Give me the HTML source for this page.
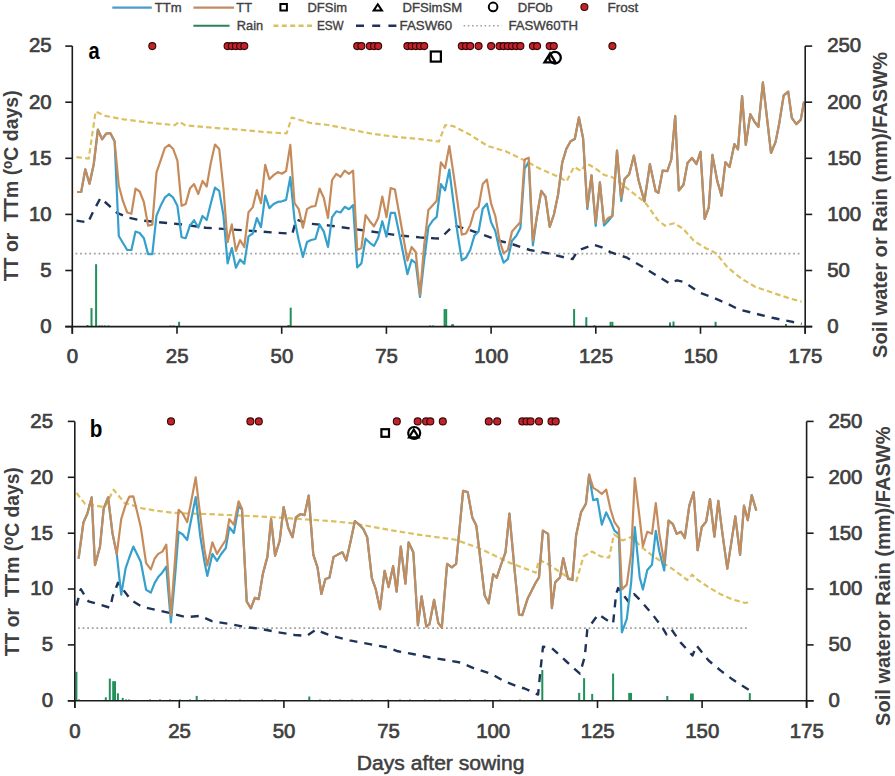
<!DOCTYPE html><html><head><meta charset="utf-8"><style>html,body{margin:0;padding:0;background:#fff;}svg{display:block;}</style></head><body>
<svg width="895" height="776" viewBox="0 0 895 776" font-family='"Liberation Sans", sans-serif'>
<rect width="895" height="776" fill="#fff"/>
<polyline points="75.5,253.7 802,253.7" fill="none" stroke="#A0A0A0" stroke-width="1.8" stroke-linejoin="round" stroke-dasharray="1.8 2.8" />
<rect x="86.5" y="325" width="2" height="1.6" fill="#22905A"/>
<rect x="90.5" y="308.1" width="2" height="18.5" fill="#22905A"/>
<rect x="95.1" y="264.2" width="2" height="62.4" fill="#22905A"/>
<rect x="98.5" y="325.5" width="2" height="1.1" fill="#22905A"/>
<rect x="101" y="325.5" width="2" height="1.1" fill="#22905A"/>
<rect x="104" y="325.5" width="2" height="1.1" fill="#22905A"/>
<rect x="107.5" y="325.5" width="2" height="1.1" fill="#22905A"/>
<rect x="178.1" y="321.8" width="2" height="4.8" fill="#22905A"/>
<rect x="169.5" y="325.5" width="2" height="1.1" fill="#22905A"/>
<rect x="172.5" y="325.5" width="2" height="1.1" fill="#22905A"/>
<rect x="289.7" y="307.7" width="2" height="18.9" fill="#22905A"/>
<rect x="287.5" y="325" width="2" height="1.6" fill="#22905A"/>
<rect x="443.6" y="309.1" width="2" height="17.5" fill="#22905A"/>
<rect x="445.2" y="309.1" width="2" height="17.5" fill="#22905A"/>
<rect x="452" y="324.2" width="2" height="2.4" fill="#22905A"/>
<rect x="451" y="324.5" width="2" height="2.1" fill="#22905A"/>
<rect x="429" y="325.5" width="2" height="1.1" fill="#22905A"/>
<rect x="432" y="325.5" width="2" height="1.1" fill="#22905A"/>
<rect x="573.1" y="309.1" width="2" height="17.5" fill="#22905A"/>
<rect x="585.3" y="317.2" width="2" height="9.4" fill="#22905A"/>
<rect x="593.3" y="325.3" width="2" height="1.3" fill="#22905A"/>
<rect x="609.6" y="321.8" width="2" height="4.8" fill="#22905A"/>
<rect x="611.4" y="321.8" width="2" height="4.8" fill="#22905A"/>
<rect x="669" y="322.5" width="2" height="4.1" fill="#22905A"/>
<rect x="672.5" y="321.5" width="2" height="5.1" fill="#22905A"/>
<rect x="714.6" y="321.8" width="2" height="4.8" fill="#22905A"/>
<rect x="785" y="324" width="2" height="2.6" fill="#22905A"/>
<polyline points="76.5,157.1 88.7,158.6 95.6,111.6 105.4,115.9 123.4,119.3 149.1,122.6 174.8,125.2 179.4,121.8 185.1,125.2 213.3,127.8 239,129.6 264.8,132.1 286.6,133.4 291.7,117.5 310.4,123 328.4,125 346.4,128.6 372.1,133.8 397.8,137.1 418.4,138.9 438.9,141.5 445.3,125 453.1,126.1 469.8,134.6 487.8,146.1 505.7,151.3 525.1,160.7 540,168.8 551.6,173.7 559.7,177.3 566.5,181.5 574,166.8 581.1,171 586,163.6 590,165.2 597.2,169.7 604.3,175 611.5,176.8 620,182.2 624.3,186.2 645.1,202.4 657.8,220 664.8,225.6 674.3,223.3 683,228.6 694.1,241 705.3,247.9 716.4,253.5 727.6,267.5 741.6,278.7 755.5,287 772.3,292.6 789,298.2 801.6,301.6" fill="none" stroke="#DCC060" stroke-width="2.2" stroke-linejoin="round" stroke-dasharray="5.5 3.2" />
<polyline points="76.5,220.6 88,222.5 93,212 100.5,197.9 117,212.8 128,217.5 142,220.6 180,224.2 205.7,227.7 242.5,230.2 260,231.5 292.3,233.8 296.3,219.4 307.4,223.5 330,225.6 353.9,229 393,234.6 405,236 419.6,237.4 433.8,238.3 440,238.5 445.3,233.5 453.6,225.3 468,229.4 503,241.8 508.9,243 529.8,250 548.3,253.4 564.5,257.4 572.6,259.1 576.8,252.1 581,249.3 593.5,244.6 601.9,247.4 610.3,252.1 627,257.7 643.8,267.5 669.5,283.5 677,280.3 684,282 699.7,292.8 713.6,297.8 727.6,303.8 738.8,309.4 755.5,313.6 772.3,317.8 789,321.1 801.6,323.9" fill="none" stroke="#1F3358" stroke-width="2.4" stroke-linejoin="round" stroke-dasharray="8 7" />
<polyline points="77,192 81.2,192 85.3,169.3 89.5,183.8 93.7,164.5 97.9,129.7 102.1,139.3 106.3,133.5 110.4,133.2 114.6,141.3 118.8,236 123,243 127.2,250 131.4,250 135.5,231.5 139.7,233 143.9,238.2 148.1,254.1 152.3,254.1 156.5,215.7 160.6,205.8 164.8,197.7 169,194 173.2,197.7 177.4,205.8 181.6,237.3 185.7,238.2 189.9,225.6 194.1,220.2 198.3,227.5 202.5,216 206.7,220 210.8,203.5 215,187.6 219.2,190.9 223.4,215 227.6,263.4 231.8,248 235.9,267.7 240.1,259.6 244.3,263.8 248.5,236.4 252.7,233.5 256.9,218 261,227.2 265.2,195.7 269.4,208.1 273.6,204 277.8,201.9 281.9,201.3 286.1,199.9 290.3,177.2 294.5,219.4 298.7,240 302.9,256.9 307,242.1 311.2,240 315.4,239 319.6,224.6 323.8,231.6 328,247 332.1,217.1 336.3,211.3 340.5,212.5 344.7,206.8 348.9,209.2 353.1,205.1 357.2,267.5 361.4,263.4 365.6,238.7 369.8,242.8 374,245.9 378.2,237.7 382.3,221.2 386.5,236.6 390.7,212.9 394.9,212.9 399.1,233 403.3,254 407.4,274.1 411.6,259.9 415.8,263.1 420,297 424.2,260 428.4,227 432.5,220.8 436.7,216.9 440.9,184.1 445.1,190.3 449.3,169.7 453.5,202.6 457.6,233.5 461.8,260.3 466,257.8 470.2,250 474.4,235.6 478.6,231.5 482.7,208.8 486.9,203.7 491.1,222.2 495.3,231 499.5,250 503.6,262.7 507.8,259.2 512,240.7 516.2,236 520.4,227.9 524.6,168.8 528.7,161.9 532.9,245.3 537.1,215.2 541.3,190.8 545.5,196.6 549.7,226.8 553.8,215 558,195 562.2,162.6 566.4,148.7 570.6,141.3 574.8,139 578.9,117.4 583.1,138.2 587.3,209 591.5,175.3 595.7,226 599.9,182.3 604,225.5 608.2,221 612.4,215.9 617,150.7 621.2,201 624.6,179 629.2,174.3 633.9,155.6 638.6,180.5 644.4,201.4 649.9,164.2 655.6,191 658.4,192.9 662.6,170.6 667.3,171.2 671.3,159.5 675.2,116.1 678.8,190.5 683.5,184.7 687.5,163.1 692,158 696.5,164 700.5,151.9 704.7,219 708.8,207.3 712.4,154.9 717.3,181.1 721.5,195.6 725.4,162.2 729.6,167 734.4,144 738,149.4 742.1,96.2 745.8,144.9 750.3,114.2 754.8,122.3 758.4,126.8 762.9,82.3 767,118 771,153 775.5,142.2 779.1,124.1 783.7,95.3 788.2,91.7 791.8,117.8 796.3,124.1 800.8,119.6 804,101.6" fill="none" stroke="#35A0CC" stroke-width="2.2" stroke-linejoin="round" />
<polyline points="77,192 81.2,192 85.3,169.3 89.5,183.8 93.7,164.5 97.9,129.7 102.1,139.3 106.3,133.5 110.4,133.2 114.6,141.3 118.8,185.8 123,201.2 127.2,212.5 131.4,213.8 135.5,188.7 139.7,191.5 143.9,202.2 148.1,225.6 152.3,224.7 156.5,172.4 160.6,160.7 164.8,148 169,144.8 173.2,149 177.4,160.7 181.6,205.8 185.7,204 189.9,188.6 194.1,184.1 198.3,194 202.5,181 206.7,186.5 210.8,162.9 215,144.5 219.2,149 223.4,188 227.6,242.2 231.8,224.4 235.9,250.9 240.1,240.2 244.3,247 248.5,212.2 252.7,207.4 256.9,190 261,203.3 265.2,164.9 269.4,179.3 273.6,175.1 277.8,172.1 281.9,173.7 286.1,171 290.3,144.9 294.5,203 298.7,209.1 302.9,227.7 307,209.1 311.2,206.6 315.4,206 319.6,188.5 323.8,198 328,218 332.1,180 336.3,173.8 340.5,176.9 344.7,170.7 348.9,173.8 353.1,170.7 357.2,250 361.4,248 365.6,215 369.8,221.2 374,226.3 378.2,218.1 382.3,196.5 386.5,217.2 390.7,188 394.9,189.5 399.1,213 403.3,237 407.4,260.6 411.6,247 415.8,252.2 420,295 424.2,245 428.4,209.9 432.5,205.4 436.7,200.7 440.9,162.4 445.1,168.2 449.3,146 453.5,173.8 457.6,202.6 461.8,234.6 466,233.5 470.2,225.3 474.4,210.9 478.6,206.8 482.7,184.1 486.9,179.6 491.1,203.7 495.3,216 499.5,240 503.6,253.4 507.8,250 512,231.4 516.2,226.8 520.4,222.1 524.6,159.5 528.7,157.7 532.9,240.7 537.1,215.2 541.3,190.8 545.5,196.6 549.7,226.8 553.8,215 558,195 562.2,162.6 566.4,148.7 570.6,141.3 574.8,139 578.9,117.4 583.1,138.2 587.3,206.6 591.5,175.3 595.7,222.9 599.9,182.3 604,222.9 608.2,218 612.4,215.9 617,150.7 621.2,198 624.6,179 629.2,174.3 633.9,155.6 638.6,180.5 644.4,201.4 649.9,164.2 655.6,191 658.4,192.9 662.6,170.6 667.3,171.2 671.3,159.5 675.2,116.1 678.8,190.5 683.5,184.7 687.5,163.1 692,158 696.5,164 700.5,151.9 704.7,219 708.8,207.3 712.4,154.9 717.3,181.1 721.5,195.6 725.4,162.2 729.6,167 734.4,144 738,149.4 742.1,96.2 745.8,144.9 750.3,114.2 754.8,122.3 758.4,126.8 762.9,82.3 767,118 771,153 775.5,142.2 779.1,124.1 783.7,95.3 788.2,91.7 791.8,117.8 796.3,124.1 800.8,119.6 804,101.6" fill="none" stroke="#C68B5A" stroke-width="2.2" stroke-linejoin="round" />
<line x1="72.3" y1="46.1" x2="72.3" y2="333.8" stroke="#1c1c1c" stroke-width="1.6"/>
<line x1="805.2" y1="46.1" x2="805.2" y2="333.8" stroke="#1c1c1c" stroke-width="1.6"/>
<line x1="65.3" y1="326.6" x2="812.2" y2="326.6" stroke="#1c1c1c" stroke-width="1.6"/>
<line x1="65.3" y1="46.1" x2="72.3" y2="46.1" stroke="#1c1c1c" stroke-width="1.6"/>
<line x1="805.2" y1="46.1" x2="812.2" y2="46.1" stroke="#1c1c1c" stroke-width="1.6"/>
<line x1="65.3" y1="102.2" x2="72.3" y2="102.2" stroke="#1c1c1c" stroke-width="1.6"/>
<line x1="805.2" y1="102.2" x2="812.2" y2="102.2" stroke="#1c1c1c" stroke-width="1.6"/>
<line x1="65.3" y1="158.3" x2="72.3" y2="158.3" stroke="#1c1c1c" stroke-width="1.6"/>
<line x1="805.2" y1="158.3" x2="812.2" y2="158.3" stroke="#1c1c1c" stroke-width="1.6"/>
<line x1="65.3" y1="214.4" x2="72.3" y2="214.4" stroke="#1c1c1c" stroke-width="1.6"/>
<line x1="805.2" y1="214.4" x2="812.2" y2="214.4" stroke="#1c1c1c" stroke-width="1.6"/>
<line x1="65.3" y1="270.5" x2="72.3" y2="270.5" stroke="#1c1c1c" stroke-width="1.6"/>
<line x1="805.2" y1="270.5" x2="812.2" y2="270.5" stroke="#1c1c1c" stroke-width="1.6"/>
<line x1="65.3" y1="326.6" x2="72.3" y2="326.6" stroke="#1c1c1c" stroke-width="1.6"/>
<line x1="805.2" y1="326.6" x2="812.2" y2="326.6" stroke="#1c1c1c" stroke-width="1.6"/>
<line x1="72.3" y1="326.6" x2="72.3" y2="333.8" stroke="#1c1c1c" stroke-width="1.6"/>
<line x1="177" y1="326.6" x2="177" y2="333.8" stroke="#1c1c1c" stroke-width="1.6"/>
<line x1="281.7" y1="326.6" x2="281.7" y2="333.8" stroke="#1c1c1c" stroke-width="1.6"/>
<line x1="386.4" y1="326.6" x2="386.4" y2="333.8" stroke="#1c1c1c" stroke-width="1.6"/>
<line x1="491.1" y1="326.6" x2="491.1" y2="333.8" stroke="#1c1c1c" stroke-width="1.6"/>
<line x1="595.8" y1="326.6" x2="595.8" y2="333.8" stroke="#1c1c1c" stroke-width="1.6"/>
<line x1="700.5" y1="326.6" x2="700.5" y2="333.8" stroke="#1c1c1c" stroke-width="1.6"/>
<line x1="805.2" y1="326.6" x2="805.2" y2="333.8" stroke="#1c1c1c" stroke-width="1.6"/>
<text x="51.6" y="52.4" font-size="20.4" text-anchor="end" font-weight="normal" fill="#404040" stroke="#404040" stroke-width="0.7" >25</text>
<text x="827.2" y="52.4" font-size="20.4" text-anchor="start" font-weight="normal" fill="#404040" stroke="#404040" stroke-width="0.7" >250</text>
<text x="51.6" y="108.5" font-size="20.4" text-anchor="end" font-weight="normal" fill="#404040" stroke="#404040" stroke-width="0.7" >20</text>
<text x="827.2" y="108.5" font-size="20.4" text-anchor="start" font-weight="normal" fill="#404040" stroke="#404040" stroke-width="0.7" >200</text>
<text x="51.6" y="164.6" font-size="20.4" text-anchor="end" font-weight="normal" fill="#404040" stroke="#404040" stroke-width="0.7" >15</text>
<text x="827.2" y="164.6" font-size="20.4" text-anchor="start" font-weight="normal" fill="#404040" stroke="#404040" stroke-width="0.7" >150</text>
<text x="51.6" y="220.7" font-size="20.4" text-anchor="end" font-weight="normal" fill="#404040" stroke="#404040" stroke-width="0.7" >10</text>
<text x="827.2" y="220.7" font-size="20.4" text-anchor="start" font-weight="normal" fill="#404040" stroke="#404040" stroke-width="0.7" >100</text>
<text x="51.6" y="276.8" font-size="20.4" text-anchor="end" font-weight="normal" fill="#404040" stroke="#404040" stroke-width="0.7" >5</text>
<text x="827.2" y="276.8" font-size="20.4" text-anchor="start" font-weight="normal" fill="#404040" stroke="#404040" stroke-width="0.7" >50</text>
<text x="51.6" y="332.9" font-size="20.4" text-anchor="end" font-weight="normal" fill="#404040" stroke="#404040" stroke-width="0.7" >0</text>
<text x="827.2" y="332.9" font-size="20.4" text-anchor="start" font-weight="normal" fill="#404040" stroke="#404040" stroke-width="0.7" >0</text>
<text x="72.5" y="362.6" font-size="20.4" text-anchor="middle" font-weight="normal" fill="#404040" stroke="#404040" stroke-width="0.7" >0</text>
<text x="177.2" y="362.6" font-size="20.4" text-anchor="middle" font-weight="normal" fill="#404040" stroke="#404040" stroke-width="0.7" >25</text>
<text x="281.9" y="362.6" font-size="20.4" text-anchor="middle" font-weight="normal" fill="#404040" stroke="#404040" stroke-width="0.7" >50</text>
<text x="386.6" y="362.6" font-size="20.4" text-anchor="middle" font-weight="normal" fill="#404040" stroke="#404040" stroke-width="0.7" >75</text>
<text x="491.3" y="362.6" font-size="20.4" text-anchor="middle" font-weight="normal" fill="#404040" stroke="#404040" stroke-width="0.7" >100</text>
<text x="596" y="362.6" font-size="20.4" text-anchor="middle" font-weight="normal" fill="#404040" stroke="#404040" stroke-width="0.7" >125</text>
<text x="700.7" y="362.6" font-size="20.4" text-anchor="middle" font-weight="normal" fill="#404040" stroke="#404040" stroke-width="0.7" >150</text>
<text x="805.4" y="362.6" font-size="20.4" text-anchor="middle" font-weight="normal" fill="#404040" stroke="#404040" stroke-width="0.7" >175</text>
<circle cx="152.3" cy="46.1" r="3.5" fill="#C0232A" stroke="#3A0606" stroke-width="1.1"/>
<circle cx="227.6" cy="46.1" r="3.5" fill="#C0232A" stroke="#3A0606" stroke-width="1.1"/>
<circle cx="231.8" cy="46.1" r="3.5" fill="#C0232A" stroke="#3A0606" stroke-width="1.1"/>
<circle cx="235.9" cy="46.1" r="3.5" fill="#C0232A" stroke="#3A0606" stroke-width="1.1"/>
<circle cx="240.1" cy="46.1" r="3.5" fill="#C0232A" stroke="#3A0606" stroke-width="1.1"/>
<circle cx="244.3" cy="46.1" r="3.5" fill="#C0232A" stroke="#3A0606" stroke-width="1.1"/>
<circle cx="357.2" cy="46.1" r="3.5" fill="#C0232A" stroke="#3A0606" stroke-width="1.1"/>
<circle cx="361.4" cy="46.1" r="3.5" fill="#C0232A" stroke="#3A0606" stroke-width="1.1"/>
<circle cx="369.8" cy="46.1" r="3.5" fill="#C0232A" stroke="#3A0606" stroke-width="1.1"/>
<circle cx="374" cy="46.1" r="3.5" fill="#C0232A" stroke="#3A0606" stroke-width="1.1"/>
<circle cx="378.2" cy="46.1" r="3.5" fill="#C0232A" stroke="#3A0606" stroke-width="1.1"/>
<circle cx="407.4" cy="46.1" r="3.5" fill="#C0232A" stroke="#3A0606" stroke-width="1.1"/>
<circle cx="411.6" cy="46.1" r="3.5" fill="#C0232A" stroke="#3A0606" stroke-width="1.1"/>
<circle cx="415.8" cy="46.1" r="3.5" fill="#C0232A" stroke="#3A0606" stroke-width="1.1"/>
<circle cx="420" cy="46.1" r="3.5" fill="#C0232A" stroke="#3A0606" stroke-width="1.1"/>
<circle cx="424.2" cy="46.1" r="3.5" fill="#C0232A" stroke="#3A0606" stroke-width="1.1"/>
<circle cx="461.8" cy="46.1" r="3.5" fill="#C0232A" stroke="#3A0606" stroke-width="1.1"/>
<circle cx="466" cy="46.1" r="3.5" fill="#C0232A" stroke="#3A0606" stroke-width="1.1"/>
<circle cx="470.2" cy="46.1" r="3.5" fill="#C0232A" stroke="#3A0606" stroke-width="1.1"/>
<circle cx="478.6" cy="46.1" r="3.5" fill="#C0232A" stroke="#3A0606" stroke-width="1.1"/>
<circle cx="491.1" cy="46.1" r="3.5" fill="#C0232A" stroke="#3A0606" stroke-width="1.1"/>
<circle cx="499.5" cy="46.1" r="3.5" fill="#C0232A" stroke="#3A0606" stroke-width="1.1"/>
<circle cx="503.6" cy="46.1" r="3.5" fill="#C0232A" stroke="#3A0606" stroke-width="1.1"/>
<circle cx="507.8" cy="46.1" r="3.5" fill="#C0232A" stroke="#3A0606" stroke-width="1.1"/>
<circle cx="512" cy="46.1" r="3.5" fill="#C0232A" stroke="#3A0606" stroke-width="1.1"/>
<circle cx="516.2" cy="46.1" r="3.5" fill="#C0232A" stroke="#3A0606" stroke-width="1.1"/>
<circle cx="520.4" cy="46.1" r="3.5" fill="#C0232A" stroke="#3A0606" stroke-width="1.1"/>
<circle cx="532.9" cy="46.1" r="3.5" fill="#C0232A" stroke="#3A0606" stroke-width="1.1"/>
<circle cx="537.1" cy="46.1" r="3.5" fill="#C0232A" stroke="#3A0606" stroke-width="1.1"/>
<circle cx="549.7" cy="46.1" r="3.5" fill="#C0232A" stroke="#3A0606" stroke-width="1.1"/>
<circle cx="553.8" cy="46.1" r="3.5" fill="#C0232A" stroke="#3A0606" stroke-width="1.1"/>
<circle cx="612.4" cy="46.1" r="3.5" fill="#C0232A" stroke="#3A0606" stroke-width="1.1"/>
<text x="88.6" y="59.2" font-size="23" text-anchor="start" font-weight="bold" fill="#000" textLength="11.2" lengthAdjust="spacingAndGlyphs" >a</text>
<rect x="430.8" y="51.5" width="10.1" height="10.1" fill="#fff" stroke="#000" stroke-width="2.2"/>
<polygon points="550,53.4 555.5,62.3 544.5,62.3" fill="none" stroke="#000" stroke-width="2.3" stroke-linejoin="miter"/>
<circle cx="555" cy="57.7" r="5.8" fill="none" stroke="#000" stroke-width="2.3"/>
<polyline points="78,628.2 749.5,628.2" fill="none" stroke="#A0A0A0" stroke-width="1.8" stroke-linejoin="round" stroke-dasharray="1.8 2.8" />
<rect x="75.4" y="671.8" width="2" height="29" fill="#22905A"/>
<rect x="78" y="699.5" width="2" height="1.3" fill="#22905A"/>
<rect x="104.8" y="697.3" width="2" height="3.5" fill="#22905A"/>
<rect x="108.8" y="678.6" width="2" height="22.2" fill="#22905A"/>
<rect x="112.2" y="681.2" width="2" height="19.6" fill="#22905A"/>
<rect x="114" y="681.2" width="2" height="19.6" fill="#22905A"/>
<rect x="116.9" y="693.3" width="2" height="7.5" fill="#22905A"/>
<rect x="121.7" y="697.9" width="2" height="2.9" fill="#22905A"/>
<rect x="125" y="699.5" width="2" height="1.3" fill="#22905A"/>
<rect x="128" y="699.5" width="2" height="1.3" fill="#22905A"/>
<rect x="195.7" y="695.9" width="2" height="4.9" fill="#22905A"/>
<rect x="149" y="699.5" width="2" height="1.3" fill="#22905A"/>
<rect x="159" y="699.5" width="2" height="1.3" fill="#22905A"/>
<rect x="169" y="699.5" width="2" height="1.3" fill="#22905A"/>
<rect x="179" y="699.5" width="2" height="1.3" fill="#22905A"/>
<rect x="189" y="699.5" width="2" height="1.3" fill="#22905A"/>
<rect x="308.3" y="696.5" width="2" height="4.3" fill="#22905A"/>
<rect x="204" y="699.6" width="2" height="1.2" fill="#22905A"/>
<rect x="213" y="699.6" width="2" height="1.2" fill="#22905A"/>
<rect x="225" y="699.6" width="2" height="1.2" fill="#22905A"/>
<rect x="239" y="699.6" width="2" height="1.2" fill="#22905A"/>
<rect x="261" y="699.6" width="2" height="1.2" fill="#22905A"/>
<rect x="274" y="699.6" width="2" height="1.2" fill="#22905A"/>
<rect x="319" y="699.6" width="2" height="1.2" fill="#22905A"/>
<rect x="329" y="699.6" width="2" height="1.2" fill="#22905A"/>
<rect x="339" y="699.6" width="2" height="1.2" fill="#22905A"/>
<rect x="351" y="699.6" width="2" height="1.2" fill="#22905A"/>
<rect x="361" y="699.6" width="2" height="1.2" fill="#22905A"/>
<rect x="371" y="699.6" width="2" height="1.2" fill="#22905A"/>
<rect x="387" y="699.6" width="2" height="1.2" fill="#22905A"/>
<rect x="399" y="699.6" width="2" height="1.2" fill="#22905A"/>
<rect x="409" y="699.6" width="2" height="1.2" fill="#22905A"/>
<rect x="424" y="699.6" width="2" height="1.2" fill="#22905A"/>
<rect x="439" y="699.6" width="2" height="1.2" fill="#22905A"/>
<rect x="454" y="699.6" width="2" height="1.2" fill="#22905A"/>
<rect x="469" y="699.6" width="2" height="1.2" fill="#22905A"/>
<rect x="484" y="699.6" width="2" height="1.2" fill="#22905A"/>
<rect x="499" y="699.6" width="2" height="1.2" fill="#22905A"/>
<rect x="519" y="699.6" width="2" height="1.2" fill="#22905A"/>
<rect x="541.3" y="670" width="2" height="30.8" fill="#22905A"/>
<rect x="578.2" y="692.9" width="2" height="7.9" fill="#22905A"/>
<rect x="583.1" y="678.2" width="2" height="22.6" fill="#22905A"/>
<rect x="591.2" y="693.9" width="2" height="6.9" fill="#22905A"/>
<rect x="612.1" y="673.6" width="2" height="27.2" fill="#22905A"/>
<rect x="628.2" y="692.9" width="2" height="7.9" fill="#22905A"/>
<rect x="630" y="692.9" width="2" height="7.9" fill="#22905A"/>
<rect x="666.3" y="696" width="2" height="4.8" fill="#22905A"/>
<rect x="690" y="693.5" width="2" height="7.3" fill="#22905A"/>
<rect x="691.8" y="693.5" width="2" height="7.3" fill="#22905A"/>
<rect x="748.8" y="693.1" width="2" height="7.7" fill="#22905A"/>
<polyline points="76.5,493 85.1,503.9 104.8,507.2 113.6,489.7 124.5,502.8 142,508.3 155.8,510.6 173.6,512.9 191.5,513.6 209.4,514.1 227.3,515 267.5,516.8 329.5,521 353.3,523.3 391.5,530.3 419.8,534.9 454.5,539.5 478.1,547.7 510,562.9 535.8,572.6 539,559.7 548.7,564.5 563.2,574.2 576.1,582.1 583.5,556.4 592,551.5 600.6,556.4 609.1,557.6 614,534.4 622.6,540.5 631.2,536.9 641,546.6 651.6,555 663.2,562.8 674.8,570.5 687.3,580.1 692.2,574.7 698,580.1 709.6,587.9 721.2,594.6 732.8,599.5 745.3,603 751.1,601.4" fill="none" stroke="#DCC060" stroke-width="2.2" stroke-linejoin="round" stroke-dasharray="5.5 3.2" />
<polyline points="76.5,605.6 80.8,589.2 88.4,601.3 110.3,607.8 112.5,596.9 118,582.7 131.1,600.2 142,606.7 169.8,613 186,617.2 200.3,615.8 211.9,621.1 232.8,624.6 244.4,626.9 260,628.8 278.5,632.3 294.8,635 306.4,636 316,629.5 322.6,632.5 331.3,635.7 349.8,640.4 368.4,643.9 386.9,647.3 397.9,651.3 414,654.3 430,657.5 444.4,659.7 460.4,662.5 474.7,668.6 490.8,673.6 505.1,681.7 519.4,687 524.6,688.5 538.1,694.6 540.6,668.8 543,646.7 551.6,647.9 566.4,661.5 579.9,673.7 584.8,656.5 587.3,629.5 598.3,614.3 611.8,623.4 613.1,623.3 616.1,594.1 618.1,588.1 628.2,601.2 634.2,594.1 640.2,600.2 652.3,614.2 662.3,627.3 666.4,634.4 671.4,629.3 680.5,642.4 692.5,655.5 696.5,645.4 708.6,660.5 720.7,670.6 732.7,679.6 748.8,689.7" fill="none" stroke="#1F3358" stroke-width="2.4" stroke-linejoin="round" stroke-dasharray="8 7" />
<polyline points="78.6,558.6 83.4,522.5 87.3,513.8 91.7,497.3 95,565.2 100,546.6 103.7,508.3 108.1,497.3 112.5,533.4 116.8,554.2 121.2,594.7 125.6,568.4 129.3,557.5 133.3,546.6 137.6,555.3 140.8,562 146.1,589.8 150.8,592.6 154.7,582.9 158.2,577 162.4,572.4 166.3,566.6 170.9,622.3 175,577 178.6,531.9 182.5,534.2 187.2,540 191.5,518 195.7,497.1 200.3,536.5 204.5,562 207.3,575.9 212.4,553.9 217,560.8 221.2,554 225.8,548.1 229.3,527.2 233.9,533 238.6,506.4 242,509.5 246.7,601.4 250.9,608.4 254.8,597.9 258.7,599.1 262.9,573.6 267.4,556.9 271.1,519.1 275.1,555.8 279.7,540.7 283.6,507.1 288.3,528 292.5,537.2 295.9,517.5 300.6,514 304.5,515.2 308.7,495.5 313.3,554.6 317.5,567.4 321.4,594 325.4,579 329.4,577.8 333.6,556.9 337.8,554.6 342.4,552.3 346.3,560.4 351,539.5 354.9,521 359.1,524.5 363.3,529.1 367.2,537.2 371.8,577.8 375.8,589.4 380,609.1 384.6,570.8 388.6,587.1 393.1,566.2 396.6,591.7 400.8,546.5 405.4,583.6 408.6,542.3 413.3,552.3 417.9,625.3 421.6,596.3 426.3,626.5 429.5,624.1 434.1,599.8 438.3,623 441.8,627.6 447.1,563.9 451.8,567.4 456.1,563.9 459.6,528 463.1,490.9 467.7,492 472.3,517.5 476.3,525.6 480.5,560.4 484.6,595.2 488.6,603.3 493.2,574.3 496.7,577.8 500.9,565 505.5,552.3 509.4,513.6 514.5,569 519,614.5 522.3,615.2 527.7,598.4 532,590 535.5,583 539,577.4 542.9,530.6 548.1,533.9 551.9,608.1 555.2,582.3 560,577.4 563.2,558.1 568.1,579 572.4,579.7 576.1,535.6 581,512.4 585.9,503.8 589.1,474.5 593.2,500.2 597.4,498.9 601.8,524.6 606.2,512.4 610.4,521 614.5,530.7 618.9,534.4 621.9,632.3 626.8,618.8 631.2,582.1 634.8,527.1 639.7,577.2 642.9,589.4 647.3,569.9 652,564.7 655.8,530.9 659.3,551.2 664.2,570.5 668.6,520.6 672.9,524.1 676.7,533.8 681,531.8 684.8,538 689.3,505.7 693.7,492.2 697.6,550.2 701.8,527 706.1,521.8 710,499 714.4,536.7 718.3,500.9 722.7,535.7 727.3,568.6 731.2,543.4 735.3,516.4 740.1,555 744,505.7 747.8,520.2 751.7,495.1 756.3,510.6" fill="none" stroke="#35A0CC" stroke-width="2.2" stroke-linejoin="round" />
<polyline points="78.6,558.6 83.4,522.5 87.3,513.8 91.7,497.3 95,565.2 100,546.6 103.7,508.3 108.1,497.3 112.5,533.4 116.8,554.2 121.2,519.2 125.6,505 129.3,496.7 133.3,496.3 137.6,513.8 140.8,527.2 146.1,563.2 150.8,569.4 154.7,558.5 158.2,553.9 162.4,551.6 166.3,544.6 170.9,615.3 175,560 178.6,509.8 182.5,513.3 187.2,522.1 191.5,500 195.7,477.4 200.3,516 204.5,550 207.3,565.5 212.4,542.3 217,553.9 221.2,547 225.8,540 229.3,519.1 233.9,524.9 238.6,501.3 242,508.7 246.7,601.4 250.9,608.4 254.8,597.9 258.7,599.1 262.9,573.6 267.4,556.9 271.1,519.1 275.1,555.8 279.7,540.7 283.6,507.1 288.3,528 292.5,537.2 295.9,517.5 300.6,514 304.5,515.2 308.7,495.5 313.3,554.6 317.5,567.4 321.4,594 325.4,579 329.4,577.8 333.6,556.9 337.8,554.6 342.4,552.3 346.3,560.4 351,539.5 354.9,521 359.1,524.5 363.3,529.1 367.2,537.2 371.8,577.8 375.8,589.4 380,609.1 384.6,570.8 388.6,587.1 393.1,566.2 396.6,591.7 400.8,546.5 405.4,583.6 408.6,542.3 413.3,552.3 417.9,625.3 421.6,596.3 426.3,626.5 429.5,624.1 434.1,599.8 438.3,623 441.8,627.6 447.1,563.9 451.8,567.4 456.1,563.9 459.6,528 463.1,490.9 467.7,492 472.3,517.5 476.3,525.6 480.5,560.4 484.6,595.2 488.6,603.3 493.2,574.3 496.7,577.8 500.9,565 505.5,552.3 509.4,513.6 514.5,569 519,614.5 522.3,615.2 527.7,598.4 532,590 535.5,583 539,577.4 542.9,530.6 548.1,533.9 551.9,608.1 555.2,582.3 560,577.4 563.2,558.1 568.1,579 572.4,579.7 576.1,535.6 581,512.4 585.9,503.8 589.1,474.5 593.2,487.9 597.4,490.4 601.8,494 606.2,489.6 610.4,508.7 614.5,522.2 618.9,528.3 621.9,589.4 626.8,584.6 631.2,552.8 634.8,478.1 639.7,518.5 642.9,546.3 647.3,531.8 652,533.8 655.8,503.2 659.3,533.8 664.2,562.8 668.6,520.6 672.9,524.1 676.7,533.8 681,531.8 684.8,538 689.3,505.7 693.7,492.2 697.6,550.2 701.8,527 706.1,521.8 710,499 714.4,536.7 718.3,500.9 722.7,535.7 727.3,568.6 731.2,543.4 735.3,516.4 740.1,555 744,505.7 747.8,520.2 751.7,495.1 756.3,510.6" fill="none" stroke="#C68B5A" stroke-width="2.2" stroke-linejoin="round" />
<line x1="74.8" y1="421.4" x2="74.8" y2="708" stroke="#1c1c1c" stroke-width="1.6"/>
<line x1="806.6" y1="421.4" x2="806.6" y2="708" stroke="#1c1c1c" stroke-width="1.6"/>
<line x1="67.8" y1="700.8" x2="813.6" y2="700.8" stroke="#1c1c1c" stroke-width="1.6"/>
<line x1="67.8" y1="421.4" x2="74.8" y2="421.4" stroke="#1c1c1c" stroke-width="1.6"/>
<line x1="806.6" y1="421.4" x2="813.6" y2="421.4" stroke="#1c1c1c" stroke-width="1.6"/>
<line x1="67.8" y1="477.3" x2="74.8" y2="477.3" stroke="#1c1c1c" stroke-width="1.6"/>
<line x1="806.6" y1="477.3" x2="813.6" y2="477.3" stroke="#1c1c1c" stroke-width="1.6"/>
<line x1="67.8" y1="533.2" x2="74.8" y2="533.2" stroke="#1c1c1c" stroke-width="1.6"/>
<line x1="806.6" y1="533.2" x2="813.6" y2="533.2" stroke="#1c1c1c" stroke-width="1.6"/>
<line x1="67.8" y1="589" x2="74.8" y2="589" stroke="#1c1c1c" stroke-width="1.6"/>
<line x1="806.6" y1="589" x2="813.6" y2="589" stroke="#1c1c1c" stroke-width="1.6"/>
<line x1="67.8" y1="644.9" x2="74.8" y2="644.9" stroke="#1c1c1c" stroke-width="1.6"/>
<line x1="806.6" y1="644.9" x2="813.6" y2="644.9" stroke="#1c1c1c" stroke-width="1.6"/>
<line x1="67.8" y1="700.8" x2="74.8" y2="700.8" stroke="#1c1c1c" stroke-width="1.6"/>
<line x1="806.6" y1="700.8" x2="813.6" y2="700.8" stroke="#1c1c1c" stroke-width="1.6"/>
<line x1="74.8" y1="700.8" x2="74.8" y2="708" stroke="#1c1c1c" stroke-width="1.6"/>
<line x1="179.3" y1="700.8" x2="179.3" y2="708" stroke="#1c1c1c" stroke-width="1.6"/>
<line x1="283.9" y1="700.8" x2="283.9" y2="708" stroke="#1c1c1c" stroke-width="1.6"/>
<line x1="388.4" y1="700.8" x2="388.4" y2="708" stroke="#1c1c1c" stroke-width="1.6"/>
<line x1="493" y1="700.8" x2="493" y2="708" stroke="#1c1c1c" stroke-width="1.6"/>
<line x1="597.5" y1="700.8" x2="597.5" y2="708" stroke="#1c1c1c" stroke-width="1.6"/>
<line x1="702.1" y1="700.8" x2="702.1" y2="708" stroke="#1c1c1c" stroke-width="1.6"/>
<line x1="806.6" y1="700.8" x2="806.6" y2="708" stroke="#1c1c1c" stroke-width="1.6"/>
<text x="53" y="427.7" font-size="20.4" text-anchor="end" font-weight="normal" fill="#404040" stroke="#404040" stroke-width="0.7" >25</text>
<text x="828.4" y="427.7" font-size="20.4" text-anchor="start" font-weight="normal" fill="#404040" stroke="#404040" stroke-width="0.7" >250</text>
<text x="53" y="483.6" font-size="20.4" text-anchor="end" font-weight="normal" fill="#404040" stroke="#404040" stroke-width="0.7" >20</text>
<text x="828.4" y="483.6" font-size="20.4" text-anchor="start" font-weight="normal" fill="#404040" stroke="#404040" stroke-width="0.7" >200</text>
<text x="53" y="539.5" font-size="20.4" text-anchor="end" font-weight="normal" fill="#404040" stroke="#404040" stroke-width="0.7" >15</text>
<text x="828.4" y="539.5" font-size="20.4" text-anchor="start" font-weight="normal" fill="#404040" stroke="#404040" stroke-width="0.7" >150</text>
<text x="53" y="595.3" font-size="20.4" text-anchor="end" font-weight="normal" fill="#404040" stroke="#404040" stroke-width="0.7" >10</text>
<text x="828.4" y="595.3" font-size="20.4" text-anchor="start" font-weight="normal" fill="#404040" stroke="#404040" stroke-width="0.7" >100</text>
<text x="53" y="651.2" font-size="20.4" text-anchor="end" font-weight="normal" fill="#404040" stroke="#404040" stroke-width="0.7" >5</text>
<text x="828.4" y="651.2" font-size="20.4" text-anchor="start" font-weight="normal" fill="#404040" stroke="#404040" stroke-width="0.7" >50</text>
<text x="53" y="707.1" font-size="20.4" text-anchor="end" font-weight="normal" fill="#404040" stroke="#404040" stroke-width="0.7" >0</text>
<text x="828.4" y="707.1" font-size="20.4" text-anchor="start" font-weight="normal" fill="#404040" stroke="#404040" stroke-width="0.7" >0</text>
<text x="75" y="738" font-size="20.4" text-anchor="middle" font-weight="normal" fill="#404040" stroke="#404040" stroke-width="0.7" >0</text>
<text x="179.5" y="738" font-size="20.4" text-anchor="middle" font-weight="normal" fill="#404040" stroke="#404040" stroke-width="0.7" >25</text>
<text x="284.1" y="738" font-size="20.4" text-anchor="middle" font-weight="normal" fill="#404040" stroke="#404040" stroke-width="0.7" >50</text>
<text x="388.6" y="738" font-size="20.4" text-anchor="middle" font-weight="normal" fill="#404040" stroke="#404040" stroke-width="0.7" >75</text>
<text x="493.2" y="738" font-size="20.4" text-anchor="middle" font-weight="normal" fill="#404040" stroke="#404040" stroke-width="0.7" >100</text>
<text x="597.7" y="738" font-size="20.4" text-anchor="middle" font-weight="normal" fill="#404040" stroke="#404040" stroke-width="0.7" >125</text>
<text x="702.3" y="738" font-size="20.4" text-anchor="middle" font-weight="normal" fill="#404040" stroke="#404040" stroke-width="0.7" >150</text>
<text x="806.8" y="738" font-size="20.4" text-anchor="middle" font-weight="normal" fill="#404040" stroke="#404040" stroke-width="0.7" >175</text>
<circle cx="171" cy="421.4" r="3.5" fill="#C0232A" stroke="#3A0606" stroke-width="1.1"/>
<circle cx="250.4" cy="421.4" r="3.5" fill="#C0232A" stroke="#3A0606" stroke-width="1.1"/>
<circle cx="258.8" cy="421.4" r="3.5" fill="#C0232A" stroke="#3A0606" stroke-width="1.1"/>
<circle cx="396.8" cy="421.4" r="3.5" fill="#C0232A" stroke="#3A0606" stroke-width="1.1"/>
<circle cx="417.7" cy="421.4" r="3.5" fill="#C0232A" stroke="#3A0606" stroke-width="1.1"/>
<circle cx="426.1" cy="421.4" r="3.5" fill="#C0232A" stroke="#3A0606" stroke-width="1.1"/>
<circle cx="430.3" cy="421.4" r="3.5" fill="#C0232A" stroke="#3A0606" stroke-width="1.1"/>
<circle cx="442.8" cy="421.4" r="3.5" fill="#C0232A" stroke="#3A0606" stroke-width="1.1"/>
<circle cx="488.8" cy="421.4" r="3.5" fill="#C0232A" stroke="#3A0606" stroke-width="1.1"/>
<circle cx="497.2" cy="421.4" r="3.5" fill="#C0232A" stroke="#3A0606" stroke-width="1.1"/>
<circle cx="522.3" cy="421.4" r="3.5" fill="#C0232A" stroke="#3A0606" stroke-width="1.1"/>
<circle cx="526.5" cy="421.4" r="3.5" fill="#C0232A" stroke="#3A0606" stroke-width="1.1"/>
<circle cx="530.6" cy="421.4" r="3.5" fill="#C0232A" stroke="#3A0606" stroke-width="1.1"/>
<circle cx="539" cy="421.4" r="3.5" fill="#C0232A" stroke="#3A0606" stroke-width="1.1"/>
<circle cx="551.5" cy="421.4" r="3.5" fill="#C0232A" stroke="#3A0606" stroke-width="1.1"/>
<circle cx="555.7" cy="421.4" r="3.5" fill="#C0232A" stroke="#3A0606" stroke-width="1.1"/>
<text x="89.8" y="436.8" font-size="23" text-anchor="start" font-weight="bold" fill="#000" textLength="12.6" lengthAdjust="spacingAndGlyphs" >b</text>
<rect x="381.4" y="429.2" width="7.6" height="7.6" fill="#fff" stroke="#000" stroke-width="2.2"/>
<circle cx="414.2" cy="433" r="6" fill="none" stroke="#000" stroke-width="2.2"/>
<polygon points="413.8,429.6 418.6,437.4 409,437.4" fill="none" stroke="#000" stroke-width="2.2" stroke-linejoin="miter"/>
<text transform="translate(17.6,281.3) rotate(-90)" font-size="20.2" font-weight="bold" fill="#404040" textLength="191" lengthAdjust="spacingAndGlyphs">TT or&#160; TTm (<tspan font-size="14" dy="-6">o</tspan><tspan dy="6">C days)</tspan></text>
<text transform="translate(887.4,357.9) rotate(-90)" font-size="19.6" font-weight="bold" fill="#404040" textLength="306" lengthAdjust="spacingAndGlyphs">Soil water or Rain (mm)/FASW%</text>
<text transform="translate(19.2,656.2) rotate(-90)" font-size="20.2" font-weight="bold" fill="#404040" textLength="189" lengthAdjust="spacingAndGlyphs">TT or&#160; TTm (<tspan font-size="14" dy="-6">o</tspan><tspan dy="6">C days)</tspan></text>
<text transform="translate(889.8,725.9) rotate(-90)" font-size="19.6" font-weight="bold" fill="#404040" textLength="299.4" lengthAdjust="spacingAndGlyphs">Soil wateror Rain (mm)/FASW%</text>
<text x="356.8" y="769.7" font-size="19.6" text-anchor="start" font-weight="normal" fill="#404040" textLength="167.6" lengthAdjust="spacingAndGlyphs" stroke="#404040" stroke-width="0.5" >Days after sowing</text>
<line x1="112.3" y1="7.6" x2="151.8" y2="7.6" stroke="#4A9CCB" stroke-width="2.1"/>
<text x="154.7" y="11.7" font-size="13" text-anchor="start" font-weight="normal" fill="#404040" textLength="26.9" lengthAdjust="spacingAndGlyphs" stroke="#404040" stroke-width="0.35" >TTm</text>
<line x1="193.4" y1="7.6" x2="234.1" y2="7.6" stroke="#C48A66" stroke-width="2.1"/>
<text x="236.3" y="11.7" font-size="13" text-anchor="start" font-weight="normal" fill="#404040" textLength="15.7" lengthAdjust="spacingAndGlyphs" stroke="#404040" stroke-width="0.35" >TT</text>
<rect x="280.4" y="4" width="6.5" height="6.5" fill="#fff" stroke="#000" stroke-width="2.0"/>
<text x="307.5" y="11.7" font-size="13" text-anchor="start" font-weight="normal" fill="#404040" textLength="39.6" lengthAdjust="spacingAndGlyphs" stroke="#404040" stroke-width="0.35" >DFSim</text>
<polygon points="377.8,4.2 382,10.6 373.6,10.6" fill="none" stroke="#000" stroke-width="2.0" stroke-linejoin="miter"/>
<text x="402.5" y="11.7" font-size="13" text-anchor="start" font-weight="normal" fill="#404040" textLength="59.7" lengthAdjust="spacingAndGlyphs" stroke="#404040" stroke-width="0.35" >DFSimSM</text>
<circle cx="493.1" cy="6.9" r="4.3" fill="none" stroke="#000" stroke-width="2.0"/>
<text x="517.8" y="11.7" font-size="13" text-anchor="start" font-weight="normal" fill="#404040" textLength="34.8" lengthAdjust="spacingAndGlyphs" stroke="#404040" stroke-width="0.35" >DFOb</text>
<circle cx="584.4" cy="7" r="3.5" fill="#C0232A" stroke="#3A0606" stroke-width="1.1"/>
<text x="607.6" y="11.7" font-size="13" text-anchor="start" font-weight="normal" fill="#404040" textLength="30.8" lengthAdjust="spacingAndGlyphs" stroke="#404040" stroke-width="0.35" >Frost</text>
<line x1="193.4" y1="25.7" x2="229.6" y2="25.7" stroke="#2A8258" stroke-width="2.1"/>
<text x="236.8" y="29.8" font-size="13" text-anchor="start" font-weight="normal" fill="#404040" textLength="26.3" lengthAdjust="spacingAndGlyphs" stroke="#404040" stroke-width="0.35" >Rain</text>
<polyline points="273.4,25.7 312.5,25.7" fill="none" stroke="#DCC060" stroke-width="2.4" stroke-linejoin="round" stroke-dasharray="5 3.4" />
<text x="316.9" y="29.8" font-size="13" text-anchor="start" font-weight="normal" fill="#404040" textLength="26.8" lengthAdjust="spacingAndGlyphs" stroke="#404040" stroke-width="0.35" >ESW</text>
<polyline points="356,25.7 397.4,25.7" fill="none" stroke="#1F3358" stroke-width="2.4" stroke-linejoin="round" stroke-dasharray="8 8.2" />
<text x="399.6" y="29.8" font-size="13" text-anchor="start" font-weight="normal" fill="#404040" textLength="52.5" lengthAdjust="spacingAndGlyphs" stroke="#404040" stroke-width="0.35" >FASW60</text>
<polyline points="463.6,25.7 501.7,25.7" fill="none" stroke="#A0A0A0" stroke-width="1.6" stroke-linejoin="round" stroke-dasharray="1.6 2.6" />
<text x="508.4" y="29.8" font-size="13" text-anchor="start" font-weight="normal" fill="#404040" textLength="69.7" lengthAdjust="spacingAndGlyphs" stroke="#404040" stroke-width="0.35" >FASW60TH</text>
</svg></body></html>
